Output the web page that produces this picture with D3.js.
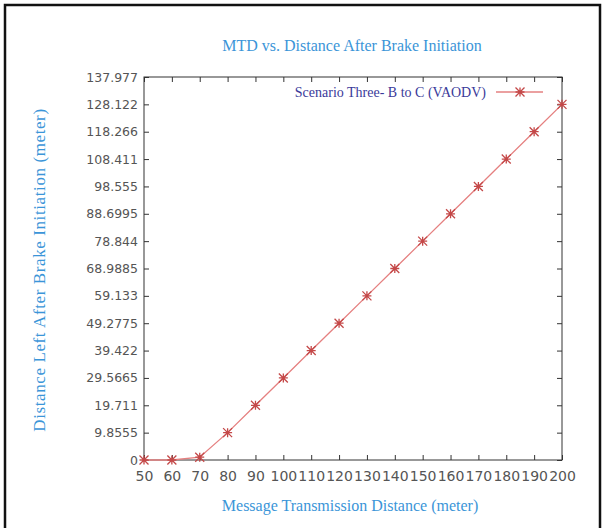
<!DOCTYPE html>
<html><head><meta charset="utf-8">
<script src="https://cdn.jsdelivr.net/npm/d3@7"></script>
<style>body{margin:0;background:#fff}svg{display:block}</style>
</head><body>
<svg id="c" width="603" height="528"></svg>
<script>
const xValues = [50,60,70,80,90,100,110,120,130,140,150,160,170,180,190,200];
const yValues = [0,0,1.0,9.8555,19.711,29.5665,39.422,49.2775,59.133,68.9885,78.844,88.6995,98.555,108.411,118.266,128.122];
const xTicks = [50,60,70,80,90,100,110,120,130,140,150,160,170,180,190,200];
const yTicks = [0,9.8555,19.711,29.5665,39.422,49.2775,59.133,68.9885,78.844,88.6995,98.555,108.411,118.266,128.122,137.977];
const yTickLabels = ["0","9.8555","19.711","29.5665","39.422","49.2775","59.133","68.9885","78.844","88.6995","98.555","108.411","118.266","128.122","137.977"];
const seriesName = "Scenario Three- B to C (VAODV)";
const title = "MTD vs. Distance After Brake Initiation";
const xTitle = "Message Transmission Distance (meter)";
const yTitle = "Distance Left After Brake Initiation (meter)";

const svg = d3.select("#c");
const L=144,R=562,T=77,B=460;
const x = d3.scaleLinear().domain([50,200]).range([L,R]);
const y = d3.scaleLinear().domain([0,137.977]).range([B,T]);

// outer frame
svg.append("rect").attr("x",5).attr("y",5).attr("width",595).attr("height",530)
  .attr("fill","none").attr("stroke","#111").attr("stroke-width",2.5);

// plot box
svg.append("rect").attr("x",L).attr("y",T).attr("width",R-L).attr("height",B-T)
  .attr("fill","none").attr("stroke","#333").attr("stroke-width",1);

const tickFont = "DejaVu Sans, sans-serif";
// bottom axis
const gx = svg.append("g").attr("transform",`translate(0,${B})`)
  .call(d3.axisBottom(x).tickValues(xTicks).tickSizeInner(-5).tickSizeOuter(0).tickPadding(11).tickFormat(d3.format("d")));
gx.select(".domain").remove();
gx.selectAll("line").attr("stroke","#333");
gx.selectAll("text").attr("font-family",tickFont).attr("font-size",14).attr("fill","#555");
// top ticks
const gxt = svg.append("g").attr("transform",`translate(0,${T})`)
  .call(d3.axisTop(x).tickValues(xTicks).tickSizeInner(-5).tickSizeOuter(0).tickFormat(""));
gxt.select(".domain").remove(); gxt.selectAll("line").attr("stroke","#333");
// left axis
const gy = svg.append("g").attr("transform",`translate(${L},0)`)
  .call(d3.axisLeft(y).tickValues(yTicks).tickSizeInner(-5).tickSizeOuter(0).tickPadding(6).tickFormat((d,i)=>yTickLabels[i]));
gy.select(".domain").remove();
gy.selectAll("line").attr("stroke","#333");
gy.selectAll("text").attr("font-family",tickFont).attr("font-size",12.5).attr("fill","#555");
// right ticks
const gyr = svg.append("g").attr("transform",`translate(${R},0)`)
  .call(d3.axisRight(y).tickValues(yTicks).tickSizeInner(-5).tickSizeOuter(0).tickFormat(""));
gyr.select(".domain").remove(); gyr.selectAll("line").attr("stroke","#333");

// title & axis labels
const serif = "Liberation Serif, Times New Roman, serif";
svg.append("text").attr("x",352).attr("y",51).attr("text-anchor","middle")
  .attr("font-family",serif).attr("font-size",16).attr("fill","#3b95d8").text(title);
svg.append("text").attr("x",350).attr("y",511).attr("text-anchor","middle")
  .attr("font-family",serif).attr("font-size",16).attr("fill","#3b95d8").text(xTitle);
svg.append("text").attr("transform","translate(45,270) rotate(-90)").attr("text-anchor","middle")
  .attr("font-family",serif).attr("font-size",17).attr("letter-spacing",0.6).attr("fill","#3b95d8").text(yTitle);

// series
const data = xValues.map((v,i)=>({x:v,y:yValues[i]}));
const lineColor = "#e58080", markColor = "#c44848";
svg.append("path").datum(data).attr("fill","none").attr("stroke",lineColor).attr("stroke-width",1.3)
  .attr("d",d3.line().x(d=>x(d.x)).y(d=>y(d.y)));
function star(g,cx,cy){
  const s=4.5;
  g.append("path").attr("d",`M${cx-s},${cy}H${cx+s}M${cx},${cy-s}V${cy+s}M${cx-s},${cy-s}L${cx+s},${cy+s}M${cx-s},${cy+s}L${cx+s},${cy-s}`)
    .attr("stroke",markColor).attr("stroke-width",1.3).attr("fill","none");
}
const mg = svg.append("g");
data.forEach(d=>star(mg,x(d.x),y(d.y)));

// legend
svg.append("text").attr("x",486).attr("y",97).attr("text-anchor","end")
  .attr("font-family",serif).attr("font-size",14).attr("fill","#3a3a9a").text(seriesName);
svg.append("line").attr("x1",496).attr("x2",543).attr("y1",92).attr("y2",92).attr("stroke",lineColor).attr("stroke-width",1.3);
star(svg,520,92);
</script>
</body></html>
